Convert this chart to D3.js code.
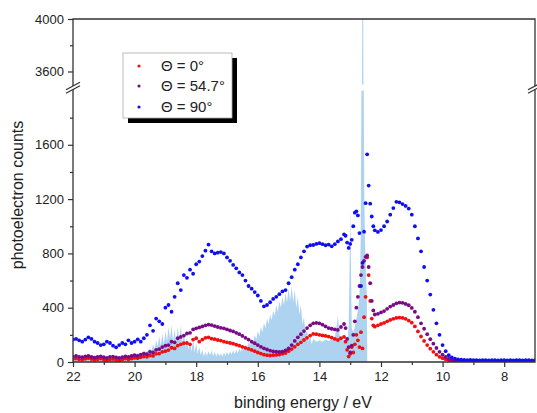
<!DOCTYPE html>
<html>
<head>
<meta charset="utf-8">
<script src="https://cdn.jsdelivr.net/npm/d3@7"></script>
<style>
  body{margin:0;background:#fff;}
  svg{display:block;font-family:"Liberation Sans",Arial,sans-serif;}
</style>
</head>
<body>
<div id="chart"></div>
<script>
// energy grid of the angle-resolved scans (eV): 0.1 steps, 0.05 steps around the sharp line
var energy = [].concat(
  d3.range(220, 131, -1).map(function(d){return d/10;}),
  d3.range(1315, 1224, -5).map(function(d){return d/100;}),
  d3.range(122, 69, -1).map(function(d){return d/10;})
);

var counts0 = [
  22,25,20,18,24,28,22,15,20,25,
  18,12,18,22,15,12,18,25,20,25,
  30,28,35,40,38,48,45,60,62,75,
  80,88,105,100,120,130,138,140,130,165,
  175,150,165,178,182,172,168,162,158,150,
  145,140,135,127,120,112,104,96,89,80,
  70,62,54,50,48,50,52,55,60,66,
  80,95,112,130,145,162,178,195,207,205,
  200,196,192,187,180,170,162,175,185,
  150,90,40,60,110,70,130,200,160,110,220,100,330,480,770,640,450,320,270,
  260,270,280,288,300,310,318,325,327,325,
  318,305,290,262,225,188,155,125,98,75,
  54,38,28,20,13,9,7,6,5,4,
  5,4,5,4,5,4,5,4,5,4,
  5,4,5,4,5,4,5,4,5,4,
  5,4,5
];

var counts547 = [
  40,45,38,35,42,45,38,32,38,42,
  35,30,38,40,34,30,36,42,38,45,
  50,45,55,62,58,75,70,90,95,110,
  120,125,150,145,175,185,195,210,215,240,
  248,255,262,270,275,272,265,258,252,248,
  240,232,225,215,205,192,178,165,150,138,
  125,112,101,92,84,78,76,74,76,85,
  100,125,155,182,205,228,250,270,285,288,
  285,275,262,250,245,240,236,258,280,
  250,170,110,70,120,200,300,400,480,560,640,700,745,775,785,700,580,450,380,
  350,355,365,375,392,408,420,432,438,436,
  428,418,398,370,330,285,245,205,168,135,
  103,75,54,38,24,15,10,7,6,5,
  6,5,6,5,6,5,6,5,6,5,
  6,5,6,5,6,5,6,5,6,5,
  6,5,6
];

var counts90 = [
  165,170,160,150,165,182,170,150,140,125,
  130,150,140,120,108,125,140,130,160,140,
  150,167,150,175,200,270,230,320,300,280,
  400,420,370,480,580,530,640,620,680,650,
  720,740,780,820,865,815,800,805,810,800,
  770,745,715,690,660,640,600,560,540,515,
  490,450,410,420,440,465,480,500,520,530,
  580,625,680,720,770,815,850,860,862,870,
  875,868,860,865,852,868,888,905,940,
  930,880,840,870,900,1000,1100,1110,1080,950,560,730,960,1170,1530,1300,1166,1072,1000,
  970,958,972,1000,1035,1085,1134,1180,1176,1163,
  1150,1130,1085,1000,910,815,700,600,497,384,
  285,200,125,80,50,34,25,20,17,15,
  14,15,13,14,12,13,14,12,13,14,
  12,13,14,12,13,12,14,13,12,13,
  14,12,13
];

var seriesNames = ["\u0398 = 0\u00b0", "\u0398 = 54.7\u00b0", "\u0398 = 90\u00b0"];
var seriesColors = ["#f01010", "#7a0a86", "#1010ee"];

// high-resolution reference spectrum [binding energy, counts]
var spectrum = [
  [22.0,20],[21.9,25],[21.8,18],[21.7,22],[21.6,28],[21.5,20],[21.4,15],[21.3,22],[21.2,25],[21.1,18],
  [21.0,20],[20.9,26],[20.8,30],[20.7,24],[20.6,28],[20.5,35],[20.4,30],[20.3,40],[20.2,45],[20.1,55],
  [20.0,50],[19.9,65],[19.8,60],[19.7,80],[19.6,75],[19.5,100],
  [19.45,80],[19.4,130],[19.35,95],[19.3,160],[19.25,110],[19.2,190],[19.15,120],[19.1,210],[19.05,130],[19.0,230],
  [18.95,150],[18.9,260],[18.85,170],[18.8,270],[18.75,150],[18.7,240],[18.65,140],[18.6,260],[18.55,160],[18.5,270],
  [18.45,140],[18.4,220],[18.35,110],[18.3,180],[18.25,90],[18.2,150],[18.15,80],[18.1,170],[18.05,70],[18.0,140],
  [17.95,60],[17.9,110],[17.85,50],[17.8,90],[17.75,40],[17.7,75],[17.65,45],[17.6,80],[17.55,50],[17.5,85],
  [17.45,45],[17.4,75],[17.35,40],[17.3,70],[17.25,45],[17.2,65],[17.15,40],[17.1,70],[17.05,45],[17.0,75],
  [16.95,50],[16.9,80],[16.85,55],[16.8,85],[16.75,60],[16.7,90],[16.65,65],[16.6,100],[16.55,75],[16.5,110],
  [16.45,85],[16.4,125],[16.35,100],[16.3,145],[16.25,120],[16.2,170],[16.15,140],[16.1,200],[16.05,165],[16.0,230],
  [15.95,190],[15.9,260],[15.85,220],[15.8,290],[15.75,250],[15.7,320],[15.65,280],[15.6,350],[15.55,310],[15.5,380],
  [15.45,340],[15.4,420],[15.35,370],[15.3,450],[15.25,400],[15.2,480],[15.15,420],[15.1,510],[15.05,440],[15.0,540],
  [14.95,450],[14.9,560],[14.85,440],[14.8,530],[14.75,400],[14.7,480],[14.65,350],[14.6,420],[14.55,280],[14.5,330],
  [14.45,200],[14.4,240],[14.35,150],[14.3,190],[14.25,130],[14.2,170],[14.1,150],[14.0,160],[13.9,150],[13.8,165],
  [13.7,155],[13.6,170],[13.5,180],[13.45,250],[13.4,340],[13.35,200],[13.3,170],[13.2,160],[13.1,150],[13.05,250],
  [13.02,700],[13.0,1120],[12.98,800],[12.95,250],[12.9,220],[12.85,260],[12.8,320],[12.75,380],[12.72,440],[12.69,540],
  [12.66,900],[12.64,1800],[12.62,3200],[12.6,4600],[12.58,4600],[12.56,2000],[12.54,1200],[12.52,900],[12.5,750],[12.48,600],
  [12.46,500],[12.445,0]
];

var xTicks = [22,20,18,16,14,12,10,8];
var xMinor = [21,19,17,15,13,11,9];
var yLowTicks = [0,400,800,1200,1600];
var yLowMinor = [200,600,1000,1400,1800];
var yHighTicks = [3600,4000];
var yHighMinor = [3800];

var W = 537, H = 413;
var L = 73, R = 535, T = 19, B = 362;
var breakY = 87.5;

var x = d3.scaleLinear().domain([22,7]).range([L,R]);
var yLow = d3.scaleLinear().domain([0,2000]).range([B,90.5]);
var yHigh = d3.scaleLinear().domain([3500,4000]).range([84.6,T]);

var svg = d3.select("#chart").append("svg")
  .attr("width", W).attr("height", H);
svg.append("rect").attr("width",W).attr("height",H).attr("fill","#fff");

var defs = svg.append("defs");
defs.append("clipPath").attr("id","clipLow").append("rect")
  .attr("x",L).attr("y",yLow.range()[1]).attr("width",R-L).attr("height",B-yLow.range()[1]);
defs.append("clipPath").attr("id","clipHigh").append("rect")
  .attr("x",L).attr("y",T).attr("width",R-L).attr("height",yHigh.range()[0]-T);

// spectrum, drawn in both panels of the broken axis
[["clipLow",yLow],["clipHigh",yHigh]].forEach(function(p){
  var sc = p[1];
  var area = d3.area()
    .x(function(d){return x(d[0]);})
    .y0(sc(0))
    .y1(function(d){return sc(d[1]);});
  svg.append("path")
    .datum(spectrum)
    .attr("clip-path","url(#"+p[0]+")")
    .attr("d", area)
    .attr("fill","#aed3f1")
    .attr("stroke","none");
});

// dotted series
var allCounts = [counts0, counts547, counts90];
allCounts.forEach(function(cs, k){
  var pts = energy.map(function(e,i){return [e, cs[i]];});
  svg.append("g")
    .attr("clip-path","url(#clipLow)")
    .selectAll("circle")
    .data(pts)
    .enter()
    .append("circle")
    .attr("cx", function(d){return x(d[0]);})
    .attr("cy", function(d){return yLow(d[1]);})
    .attr("r", 1.9)
    .attr("fill", seriesColors[k]);
});

// axes
var axisCol = "#333";
function styleAxis(g){
  g.select(".domain").remove();
  g.selectAll(".tick line").attr("stroke",axisCol).attr("stroke-width",1.2);
  g.selectAll(".tick text").attr("fill","#222").style("font-size","13px");
}

svg.append("g").attr("transform","translate(0,"+B+")")
  .call(d3.axisBottom(x).tickValues(xTicks).tickSize(5).tickPadding(5).tickFormat(d3.format("d")))
  .call(styleAxis);
svg.append("g").attr("transform","translate(0,"+B+")")
  .call(d3.axisBottom(x).tickValues(xMinor).tickSize(3).tickFormat(""))
  .call(styleAxis);

svg.append("g").attr("transform","translate("+L+",0)")
  .call(d3.axisLeft(yLow).tickValues(yLowTicks).tickSize(5).tickPadding(4).tickFormat(d3.format("d")))
  .call(styleAxis);
svg.append("g").attr("transform","translate("+L+",0)")
  .call(d3.axisLeft(yLow).tickValues(yLowMinor).tickSize(3).tickFormat(""))
  .call(styleAxis);
svg.append("g").attr("transform","translate("+L+",0)")
  .call(d3.axisLeft(yHigh).tickValues(yHighTicks).tickSize(5).tickPadding(4).tickFormat(d3.format("d")))
  .call(styleAxis);
svg.append("g").attr("transform","translate("+L+",0)")
  .call(d3.axisLeft(yHigh).tickValues(yHighMinor).tickSize(3).tickFormat(""))
  .call(styleAxis);

// frame
svg.append("path")
  .attr("d","M"+L+","+T+"V"+B+"H"+R+"V"+T+"Z")
  .attr("fill","none").attr("stroke",axisCol).attr("stroke-width",1.3);

// axis breaks
[L, R].forEach(function(ax){
  svg.append("path")
    .attr("d","M"+(ax-7)+","+(breakY+2.3)+"L"+(ax+7)+","+(breakY-5.2)+"L"+(ax+7)+","+(breakY-1.8)+"L"+(ax-7)+","+(breakY+5.7)+"Z")
    .attr("fill","#fff");
  [0, 3.4].forEach(function(o){
    svg.append("line")
      .attr("x1",ax-7).attr("y1",breakY+2.3+o)
      .attr("x2",ax+7).attr("y2",breakY-5.2+o)
      .attr("stroke",axisCol).attr("stroke-width",1.2);
  });
});

// axis titles
svg.append("text")
  .attr("x",303).attr("y",408)
  .attr("text-anchor","middle")
  .style("font-size","16px").attr("fill","#222")
  .text("binding energy / eV");
svg.append("text")
  .attr("transform","translate(23,195) rotate(-90)")
  .attr("text-anchor","middle")
  .style("font-size","16px").attr("fill","#222")
  .text("photoelectron counts");

// legend
var lg = svg.append("g");
lg.append("rect").attr("x",128).attr("y",58).attr("width",109).attr("height",65).attr("fill","#000");
lg.append("rect").attr("x",123).attr("y",53).attr("width",109).attr("height",65)
  .attr("fill","#fff").attr("stroke","#aaa").attr("stroke-width",0.8);
var rowY = [66, 86, 107];
seriesNames.forEach(function(n,i){
  lg.append("circle").attr("cx",139).attr("cy",rowY[i]).attr("r",1.6).attr("fill",seriesColors[i]);
  lg.append("text").attr("x",161).attr("y",rowY[i]).attr("dy","0.35em")
    .style("font-size","15px").attr("fill","#222").text(n);
});
</script>
</body>
</html>
